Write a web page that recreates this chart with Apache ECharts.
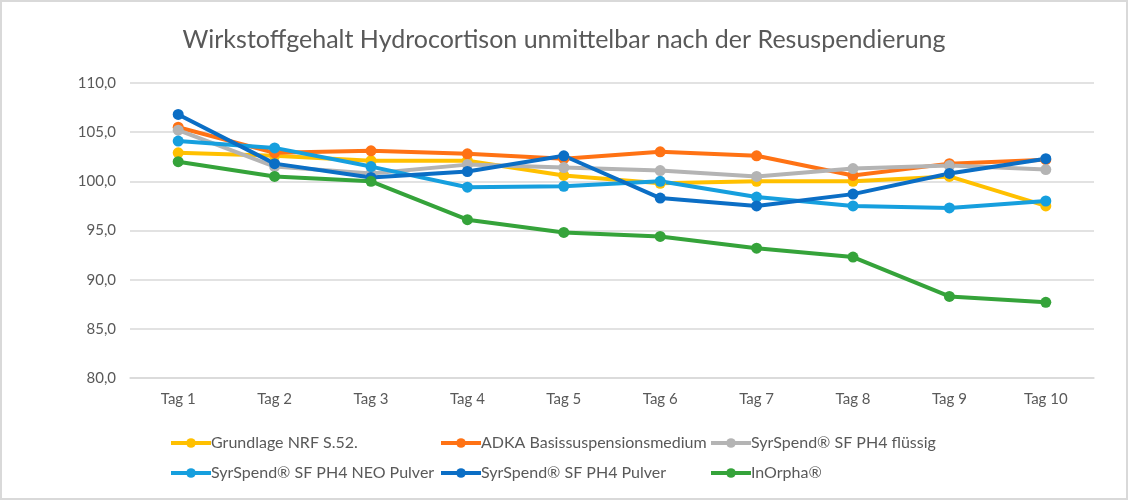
<!DOCTYPE html>
<html>
<head>
<meta charset="utf-8">
<script src="https://cdn.jsdelivr.net/npm/echarts@6/dist/echarts.min.js"></script>
<style>
html,body{margin:0;padding:0;background:#fff;}
#c{position:absolute;left:0;top:0;width:1124px;height:496px;border:2px solid #d9d9d9;}
</style>
</head>
<body>
<div id="c"></div>
<script>
var categories = ['Tag 1','Tag 2','Tag 3','Tag 4','Tag 5','Tag 6','Tag 7','Tag 8','Tag 9','Tag 10'];
var seriesNames = ['Grundlage NRF S.52.','ADKA Basissuspensionsmedium','SyrSpend® SF PH4 flüssig','SyrSpend® SF PH4 NEO Pulver','SyrSpend® SF PH4 Pulver','InOrpha®'];
var grundlage = [102.9, 102.6, 102.1, 102.1, 100.6, 99.8, 100.0, 100.0, 100.5, 97.5];
var adka      = [105.5, 102.9, 103.1, 102.8, 102.3, 103.0, 102.6, 100.6, 101.8, 102.2];
var fluessig  = [105.2, 101.5, 100.8, 101.7, 101.4, 101.1, 100.5, 101.3, 101.6, 101.2];
var neo       = [104.1, 103.4, 101.5, 99.4, 99.5, 100.0, 98.4, 97.5, 97.3, 98.0];
var pulver    = [106.8, 101.8, 100.4, 101.0, 102.6, 98.3, 97.5, 98.7, 100.8, 102.3];
var inorpha   = [102.0, 100.5, 100.0, 96.1, 94.8, 94.4, 93.2, 92.3, 88.3, 87.7];
var colors = ['#FFC000','#FF7214','#B4B4B4','#169FDE','#0B6EC5','#35A33A'];
var dataSets = [grundlage, adka, fluessig, neo, pulver, inorpha];

var FONT = 'Lato';
var chart = echarts.init(document.getElementById('c'));
var series = dataSets.map(function(d, i){
  return {
    name: seriesNames[i], type: 'line', data: d,
    symbol: 'circle', symbolSize: 11,
    lineStyle: {width: 4, color: colors[i]},
    itemStyle: {color: colors[i]},
    emphasis: {disabled: true}
  };
});
function legend(names, left){
  return {
    data: names, left: left, top: 428, orient: 'vertical',
    itemWidth: 40, itemHeight: 12, itemGap: 14,
    lineStyle: {width: 4},
    textStyle: {fontFamily: FONT, fontSize: 16, color: '#595959', padding: [0,0,0,-5]}
  };
}
chart.setOption({
  animation: false,
  color: colors,
  title: {
    text: 'Wirkstoffgehalt Hydrocortison unmittelbar nach der Resuspendierung',
    left: 'center', top: 20,
    textStyle: {fontFamily: FONT, fontSize: 25, fontWeight: 'normal', color: '#595959'}
  },
  legend: [
    legend([seriesNames[0], seriesNames[3]], 162),
    legend([seriesNames[1], seriesNames[4]], 432),
    legend([seriesNames[2], seriesNames[5]], 702)
  ],
  grid: {left: 128, right: 32, top: 81, bottom: 120},
  xAxis: {
    type: 'category', data: categories, boundaryGap: true,
    axisLine: {lineStyle: {color: '#d9d9d9', width: 1.5}},
    axisTick: {show: false},
    axisLabel: {fontFamily: FONT, fontSize: 15, color: '#595959', margin: 14}
  },
  yAxis: {
    type: 'value', min: 80, max: 110, interval: 5,
    axisLine: {show: false}, axisTick: {show: false},
    splitLine: {lineStyle: {color: '#d9d9d9', width: 1.5}},
    axisLabel: {fontFamily: FONT, fontSize: 15, color: '#595959', margin: 14,
      formatter: function(v){ return v.toFixed(1).replace('.', ','); }}
  },
  series: series
});
</script>
</body>
</html>
